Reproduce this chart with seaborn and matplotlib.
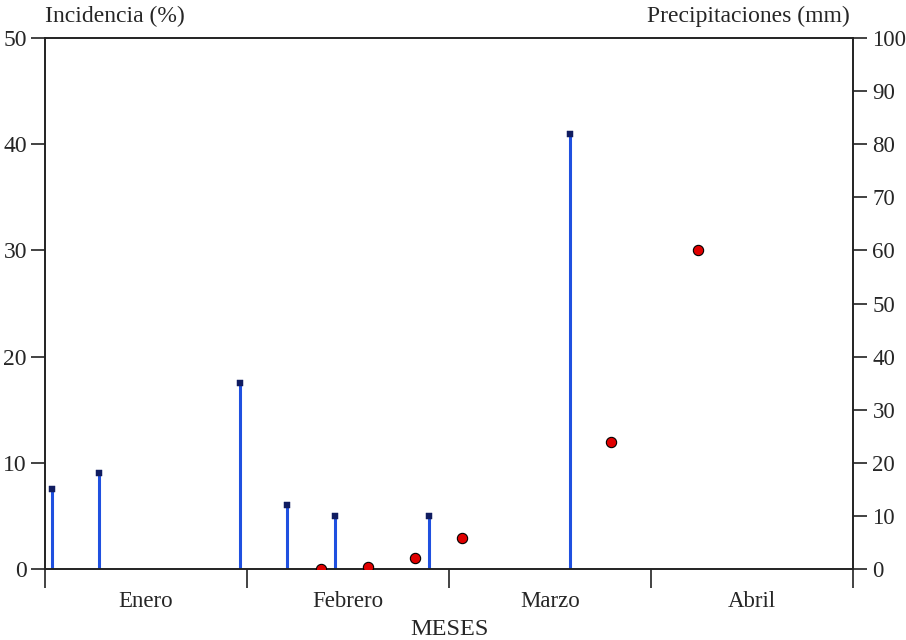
import numpy as np
import pandas as pd
import matplotlib
matplotlib.use('Agg')
import matplotlib.pyplot as plt
import seaborn as sns

# datos (dias desde el 1 de enero, meses de 30 dias)
dias_lluvia = [1, 8, 29, 36, 43, 57, 78]
precipitacion = [15, 18, 35, 12, 10, 10, 82]   # mm

dias_incidencia = [41, 48, 55, 62, 84, 97]
incidencia = [0, 0.2, 1.0, 2.9, 12, 30]        # %

meses = ['Enero', 'Febrero', 'Marzo', 'Abril']
limites_mes = [0, 30, 60, 90, 120]
centros_mes = [15, 45, 75, 105]

sns.set_style('white')
plt.rcParams['font.family'] = ['Liberation Serif', 'DejaVu Serif']
plt.rcParams['font.size'] = 16

fig = plt.figure(figsize=(9.06, 6.4), dpi=100)
ax = fig.add_axes([0.0497, 0.1109, 0.8918, 0.8297])
ax2 = ax.twinx()

df_inc = pd.DataFrame({'dia': dias_incidencia, 'inc': incidencia})
df_pp = pd.DataFrame({'dia': dias_lluvia, 'pp': precipitacion})

# precipitaciones: barras finas con marcador cuadrado
ax2.vlines(df_pp['dia'], 0, df_pp['pp'], color='#1f50e0', lw=2.2, zorder=2)
sns.scatterplot(data=df_pp, x='dia', y='pp', ax=ax2, marker='s', s=18,
                color='#101c60', edgecolor='#101c60', zorder=3, legend=False)

# incidencia: puntos rojos
sns.scatterplot(data=df_inc, x='dia', y='inc', ax=ax,
                color='#e00000', edgecolor='black', linewidth=0.8, s=55,
                zorder=4, legend=False)

ax.set_xlim(0, 120)
ax.set_ylim(0, 50)
ax2.set_ylim(0, 100)
ax.set_yticks(range(0, 51, 10))
ax2.set_yticks(range(0, 101, 10))

ax.set_xticks(limites_mes)
ax.set_xticklabels([])
ax.set_xticks(centros_mes, minor=True)
ax.set_xticklabels(meses, minor=True)
ax.tick_params(axis='x', which='major', direction='out', length=14, width=1.2,
               bottom=True, color='#222')
ax.tick_params(axis='x', which='minor', length=0, pad=16, labelsize=16.5)
ax.tick_params(axis='y', direction='out', length=10, width=1.2, left=True,
               labelsize=17, pad=3, color='#222')
ax2.tick_params(axis='y', direction='out', length=10, width=1.2, right=True,
                labelsize=16.5, pad=4, color='#222')

for a in (ax, ax2):
    for sp in a.spines.values():
        sp.set_linewidth(1.2)
        sp.set_color('#222')

ax.set_xlabel('MESES', fontsize=17.5, labelpad=5)
ax.set_ylabel('')
ax2.set_ylabel('')
ax.text(0, 1.02, 'Incidencia (%)', transform=ax.transAxes, ha='left',
        va='bottom', fontsize=17)
ax.text(0.996, 1.02, 'Precipitaciones (mm)', transform=ax.transAxes, ha='right',
        va='bottom', fontsize=17)

# puntos por encima de las barras
ax.set_zorder(ax2.get_zorder() + 1)
ax.patch.set_visible(False)

fig.savefig('out.png', dpi=100)
